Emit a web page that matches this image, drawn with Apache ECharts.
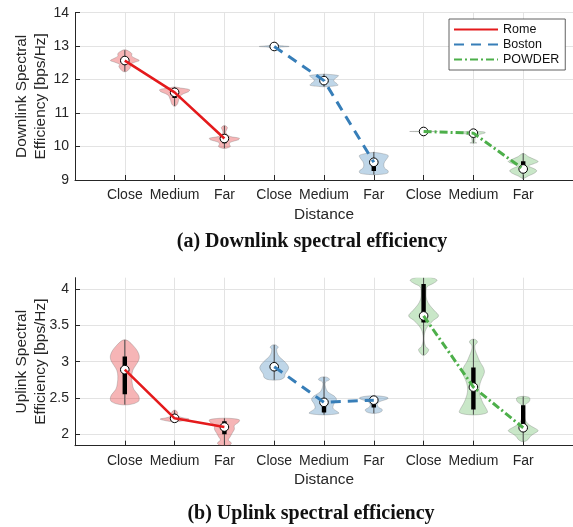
<!DOCTYPE html>
<html><head><meta charset="utf-8">
<script src="https://cdn.jsdelivr.net/npm/echarts@6/dist/echarts.min.js"></script>
<style>html,body{margin:0;padding:0;background:#fff}#c{width:573px;height:527px}</style>
</head><body><div id="c"></div>
<script>
// ---------- data ----------
const categories = ['Close', 'Medium', 'Far'];
const cities = ['Rome', 'Boston', 'POWDER'];
const cityPositions = [[1, 2, 3], [4, 5, 6], [7, 8, 9]];
const dlTicks = [9, 10, 11, 12, 13, 14];
const ulTicks = [2, 2.5, 3, 3.5, 4];

// Downlink statistics (Close, Medium, Far) per city
const romeDLMedian = [12.57, 11.62, 10.24];
const romeDLQ1 = [12.50, 11.45, 10.10];
const romeDLQ3 = [12.62, 11.64, 10.27];
const romeDLMin = [12.24, 11.21, 9.95];
const romeDLMax = [12.88, 11.78, 10.62];
const bostonDLMedian = [12.99, 11.97, 9.53];
const bostonDLQ1 = [12.97, 11.90, 9.27];
const bostonDLQ3 = [13.01, 12.05, 9.56];
const bostonDLMin = [12.94, 11.79, 9.16];
const bostonDLMax = [13.03, 12.17, 9.84];
const powderDLMedian = [10.45, 10.40, 9.33];
const powderDLQ1 = [10.45, 10.38, 9.30];
const powderDLQ3 = [10.45, 10.42, 9.56];
const powderDLMin = [10.45, 10.10, 9.02];
const powderDLMax = [10.45, 10.46, 9.80];

// Uplink statistics
const romeULMedian = [2.89, 2.22, 2.10];
const romeULQ1 = [2.55, 2.20, 2.00];
const romeULQ3 = [3.07, 2.24, 2.18];
const romeULMin = [2.41, 2.17, 1.85];
const romeULMax = [3.30, 2.33, 2.22];
const bostonULMedian = [2.93, 2.44, 2.47];
const bostonULQ1 = [2.88, 2.30, 2.37];
const bostonULQ3 = [2.98, 2.45, 2.47];
const bostonULMin = [2.75, 2.27, 2.29];
const bostonULMax = [3.23, 2.79, 2.53];
const powderULMedian = [3.63, 2.65, 2.09];
const powderULQ1 = [3.54, 2.34, 2.07];
const powderULQ3 = [4.07, 2.92, 2.40];
const powderULMin = [3.09, 2.27, 1.90];
const powderULMax = [4.16, 3.31, 2.52];

// Violin outlines: [value, half width in category units]
const romeDLShapes = [
  [[12.24,0.03],[12.30,0.08],[12.40,0.12],[12.45,0.10],[12.52,0.20],[12.57,0.29],[12.63,0.22],[12.70,0.14],[12.78,0.14],[12.85,0.08],[12.89,0.02]],
  [[11.21,0.02],[11.28,0.06],[11.38,0.08],[11.45,0.10],[11.52,0.12],[11.58,0.18],[11.64,0.28],[11.70,0.30],[11.75,0.12],[11.78,0.02]],
  [[9.95,0.04],[10.00,0.12],[10.07,0.10],[10.13,0.12],[10.20,0.28],[10.25,0.30],[10.30,0.12],[10.38,0.04],[10.45,0.03],[10.52,0.05],[10.57,0.06],[10.62,0.02]]
];
const bostonDLShapes = [
  [[12.94,0.02],[12.97,0.12],[12.99,0.30],[13.01,0.15],[13.03,0.02]],
  [[11.79,0.05],[11.83,0.28],[11.88,0.26],[11.95,0.20],[12.00,0.20],[12.07,0.26],[12.12,0.29],[12.16,0.06]],
  [[9.16,0.05],[9.20,0.27],[9.27,0.29],[9.35,0.22],[9.45,0.20],[9.55,0.22],[9.65,0.27],[9.73,0.29],[9.78,0.20],[9.82,0.04]]
];
const powderDLShapes = [
  [[10.443,0.01],[10.45,0.28],[10.457,0.01]],
  [[10.10,0.02],[10.11,0.07],[10.13,0.03],[10.20,0.03],[10.30,0.05],[10.36,0.12],[10.41,0.24],[10.44,0.20],[10.46,0.02]],
  [[9.05,0.02],[9.12,0.10],[9.20,0.22],[9.28,0.27],[9.35,0.20],[9.42,0.10],[9.48,0.20],[9.55,0.30],[9.62,0.22],[9.70,0.10],[9.78,0.03]]
];
const romeULShapes = [
  [[2.41,0.10],[2.45,0.27],[2.50,0.29],[2.55,0.26],[2.62,0.18],[2.70,0.15],[2.80,0.14],[2.88,0.16],[2.95,0.22],[3.02,0.28],[3.08,0.29],[3.15,0.25],[3.22,0.17],[3.28,0.08],[3.30,0.02]],
  [[2.17,0.03],[2.19,0.20],[2.21,0.29],[2.23,0.15],[2.26,0.06],[2.30,0.06],[2.33,0.02]],
  [[1.85,0.10],[1.88,0.14],[1.92,0.08],[1.97,0.12],[2.02,0.16],[2.07,0.20],[2.12,0.20],[2.17,0.29],[2.20,0.30],[2.22,0.10]]
];
const bostonULShapes = [
  [[2.75,0.10],[2.78,0.20],[2.83,0.22],[2.88,0.27],[2.92,0.29],[2.97,0.25],[3.02,0.18],[3.07,0.10],[3.12,0.06],[3.17,0.05],[3.20,0.08],[3.23,0.03]],
  [[2.27,0.10],[2.29,0.30],[2.32,0.25],[2.36,0.18],[2.42,0.20],[2.48,0.25],[2.53,0.20],[2.58,0.08],[2.65,0.03],[2.72,0.03],[2.75,0.11],[2.78,0.08],[2.79,0.02]],
  [[2.29,0.05],[2.31,0.15],[2.34,0.17],[2.37,0.10],[2.41,0.07],[2.45,0.12],[2.48,0.25],[2.50,0.29],[2.52,0.20],[2.53,0.05]]
];
const powderULShapes = [
  [[3.09,0.02],[3.13,0.08],[3.17,0.10],[3.21,0.04],[3.30,0.01],[3.42,0.03],[3.50,0.10],[3.57,0.20],[3.63,0.30],[3.70,0.22],[3.78,0.12],[3.86,0.06],[3.95,0.05],[4.03,0.07],[4.08,0.20],[4.12,0.27],[4.15,0.20],[4.17,0.05]],
  [[2.27,0.10],[2.30,0.28],[2.35,0.26],[2.42,0.20],[2.50,0.15],[2.58,0.12],[2.66,0.12],[2.75,0.16],[2.85,0.22],[2.92,0.20],[3.00,0.13],[3.08,0.08],[3.15,0.04],[3.22,0.03],[3.27,0.08],[3.30,0.05],[3.31,0.01]],
  [[1.90,0.03],[1.93,0.10],[1.97,0.14],[2.01,0.22],[2.05,0.30],[2.09,0.22],[2.13,0.12],[2.20,0.04],[2.30,0.03],[2.40,0.03],[2.45,0.12],[2.50,0.13],[2.52,0.05]]
];

// ---------- styles ----------
const lineColors = ['#e41a1c', '#377eb8', '#4daf4a'];
const fillColors = ['rgba(228,26,28,0.32)', 'rgba(55,126,184,0.32)', 'rgba(77,175,74,0.30)'];
const lineStyles = [
  { width: 2.6, type: 'solid' },
  { width: 3, type: [10, 7] },
  { width: 3, type: [8, 3, 2, 3] }
];
const axisColor = '#262626';
const font = 'Liberation Sans';

const dlStats = [
  { median: romeDLMedian, q1: romeDLQ1, q3: romeDLQ3, min: romeDLMin, max: romeDLMax, shapes: romeDLShapes },
  { median: bostonDLMedian, q1: bostonDLQ1, q3: bostonDLQ3, min: bostonDLMin, max: bostonDLMax, shapes: bostonDLShapes },
  { median: powderDLMedian, q1: powderDLQ1, q3: powderDLQ3, min: powderDLMin, max: powderDLMax, shapes: powderDLShapes }
];
const ulStats = [
  { median: romeULMedian, q1: romeULQ1, q3: romeULQ3, min: romeULMin, max: romeULMax, shapes: romeULShapes },
  { median: bostonULMedian, q1: bostonULQ1, q3: bostonULQ3, min: bostonULMin, max: bostonULMax, shapes: bostonULShapes },
  { median: powderULMedian, q1: powderULQ1, q3: powderULQ3, min: powderULMin, max: powderULMax, shapes: powderULShapes }
];

function violinSeries(ax, stats, ci) {
  const pos = cityPositions[ci];
  return {
    type: 'custom', name: 'violin-' + ax + '-' + ci,
    xAxisIndex: ax, yAxisIndex: ax, z: 2, clip: true, silent: true,
    data: pos.map((p, k) => [p, stats.median[k]]),
    encode: { x: 0, y: 1 },
    renderItem: function (params, api) {
      const k = params.dataIndex;
      const p = api.value(0);
      const prof = stats.shapes[k];
      const pts = [];
      prof.forEach(function (d) { pts.push(api.coord([p + d[1], d[0]])); });
      for (let j = prof.length - 1; j >= 0; j--) pts.push(api.coord([p - prof[j][1], prof[j][0]]));
      const c = api.coord([p, stats.median[k]]);
      const lo = api.coord([p, stats.min[k]]);
      const hi = api.coord([p, stats.max[k]]);
      const q1 = api.coord([p, stats.q1[k]]);
      const q3 = api.coord([p, stats.q3[k]]);
      return {
        type: 'group', children: [
          { type: 'polygon', shape: { points: pts, smooth: 0.35 },
            style: { fill: fillColors[ci], stroke: 'rgba(110,110,110,0.45)', lineWidth: 0.7 } },
          { type: 'line', shape: { x1: c[0], y1: lo[1], x2: c[0], y2: hi[1] },
            style: { stroke: '#4a4a4a', lineWidth: 1 } },
          { type: 'rect', shape: { x: c[0] - 2.2, y: q3[1], width: 4.4, height: Math.max(0, q1[1] - q3[1]) },
            style: { fill: '#000' } },
          { type: 'circle', shape: { cx: c[0], cy: c[1], r: 4.3 },
            style: { fill: '#fff', stroke: '#000', lineWidth: 1 } }
        ]
      };
    }
  };
}

function medianLine(ax, stats, ci) {
  return {
    type: 'line', name: cities[ci], xAxisIndex: ax, yAxisIndex: ax, z: 5,
    symbol: 'none', silent: true,
    data: cityPositions[ci].map((p, k) => [p, stats.median[k]]),
    lineStyle: { color: lineColors[ci], width: lineStyles[ci].width, type: lineStyles[ci].type },
    itemStyle: { color: lineColors[ci] }
  };
}

function xAxisDef(gi) {
  return {
    type: 'value', gridIndex: gi, min: 0, max: 10, interval: 1,
    name: 'Distance', nameLocation: 'middle', nameGap: 27, nameMoveOverlap: false,
    nameTextStyle: { fontFamily: font, fontSize: 15.4, color: axisColor },
    axisLine: { show: true, onZero: false, lineStyle: { color: axisColor, width: 1 } },
    axisTick: { show: true, inside: true, length: 5, lineStyle: { color: axisColor } },
    splitLine: { show: true, lineStyle: { color: '#e3e3e3', width: 1 } },
    axisLabel: {
      margin: 8, fontFamily: font, fontSize: 14, color: axisColor,
      showMinLabel: false, showMaxLabel: false,
      formatter: function (v) { return (v >= 1 && v <= 9) ? categories[(v - 1) % 3] : ''; }
    }
  };
}

const series = [];
for (let ci = 0; ci < 3; ci++) series.push(violinSeries(0, dlStats[ci], ci));
for (let ci = 0; ci < 3; ci++) series.push(violinSeries(1, ulStats[ci], ci));
for (let ci = 0; ci < 3; ci++) series.push(medianLine(0, dlStats[ci], ci));
for (let ci = 0; ci < 3; ci++) series.push(medianLine(1, ulStats[ci], ci));

const chart = echarts.init(document.getElementById('c'), null, { renderer: 'canvas' });
chart.setOption({
  animation: false,
  backgroundColor: '#fff',
  grid: [
    { left: 75, top: 12.7, width: 498, height: 167.3, containLabel: false, outerBoundsMode: 'none' },
    { left: 75, top: 277.7, width: 498, height: 168, containLabel: false, outerBoundsMode: 'none' }
  ],
  xAxis: [xAxisDef(0), xAxisDef(1)],
  yAxis: [
    {
      type: 'value', gridIndex: 0, min: 9, max: 14, interval: 1,
      name: 'Downlink Spectral\nEfficiency [bps/Hz]', nameLocation: 'middle', nameRotate: 90, nameGap: 25,
      nameMoveOverlap: false,
      nameTextStyle: { fontFamily: font, fontSize: 15.4, color: axisColor, lineHeight: 19 },
      axisLine: { show: true, lineStyle: { color: axisColor, width: 1 } },
      axisTick: { show: true, inside: true, length: 5, lineStyle: { color: axisColor } },
      splitLine: { show: true, lineStyle: { color: '#e3e3e3', width: 1 } },
      axisLabel: { margin: 6, fontFamily: font, fontSize: 14, color: axisColor }
    },
    {
      type: 'value', gridIndex: 1, min: 1.843, max: 4.156,
      name: 'Uplink Spectral\nEfficiency [bps/Hz]', nameLocation: 'middle', nameRotate: 90, nameGap: 25,
      nameMoveOverlap: false,
      nameTextStyle: { fontFamily: font, fontSize: 15.4, color: axisColor, lineHeight: 19 },
      axisLine: { show: true, lineStyle: { color: axisColor, width: 1 } },
      axisTick: { show: true, inside: true, length: 5, customValues: ulTicks, lineStyle: { color: axisColor } },
      splitLine: { show: true, lineStyle: { color: '#e3e3e3', width: 1 } },
      axisLabel: { margin: 6, fontFamily: font, fontSize: 14, color: axisColor, customValues: ulTicks }
    }
  ],
  legend: {
    data: cities, orient: 'vertical', left: 449, top: 19,
    padding: [4, 6, 4, 4], itemWidth: 44, itemHeight: 14, itemGap: 2,
    itemStyle: { opacity: 0 },
    backgroundColor: '#fff', borderColor: '#3a3a3a', borderWidth: 0.8, borderRadius: 0,
    selectedMode: false,
    textStyle: { fontFamily: font, fontSize: 12.5, color: '#111' }
  },
  graphic: [
    { type: 'text', silent: true, style: { text: '(a) Downlink spectral efficiency', x: 312, y: 242,
      textAlign: 'center', textVerticalAlign: 'middle', font: 'bold 20px "Liberation Serif"', fill: '#111' } },
    { type: 'text', silent: true, style: { text: '(b) Uplink spectral efficiency', x: 311, y: 514,
      textAlign: 'center', textVerticalAlign: 'middle', font: 'bold 20px "Liberation Serif"', fill: '#111' } }
  ],
  series: series
});
</script>
</body></html>
